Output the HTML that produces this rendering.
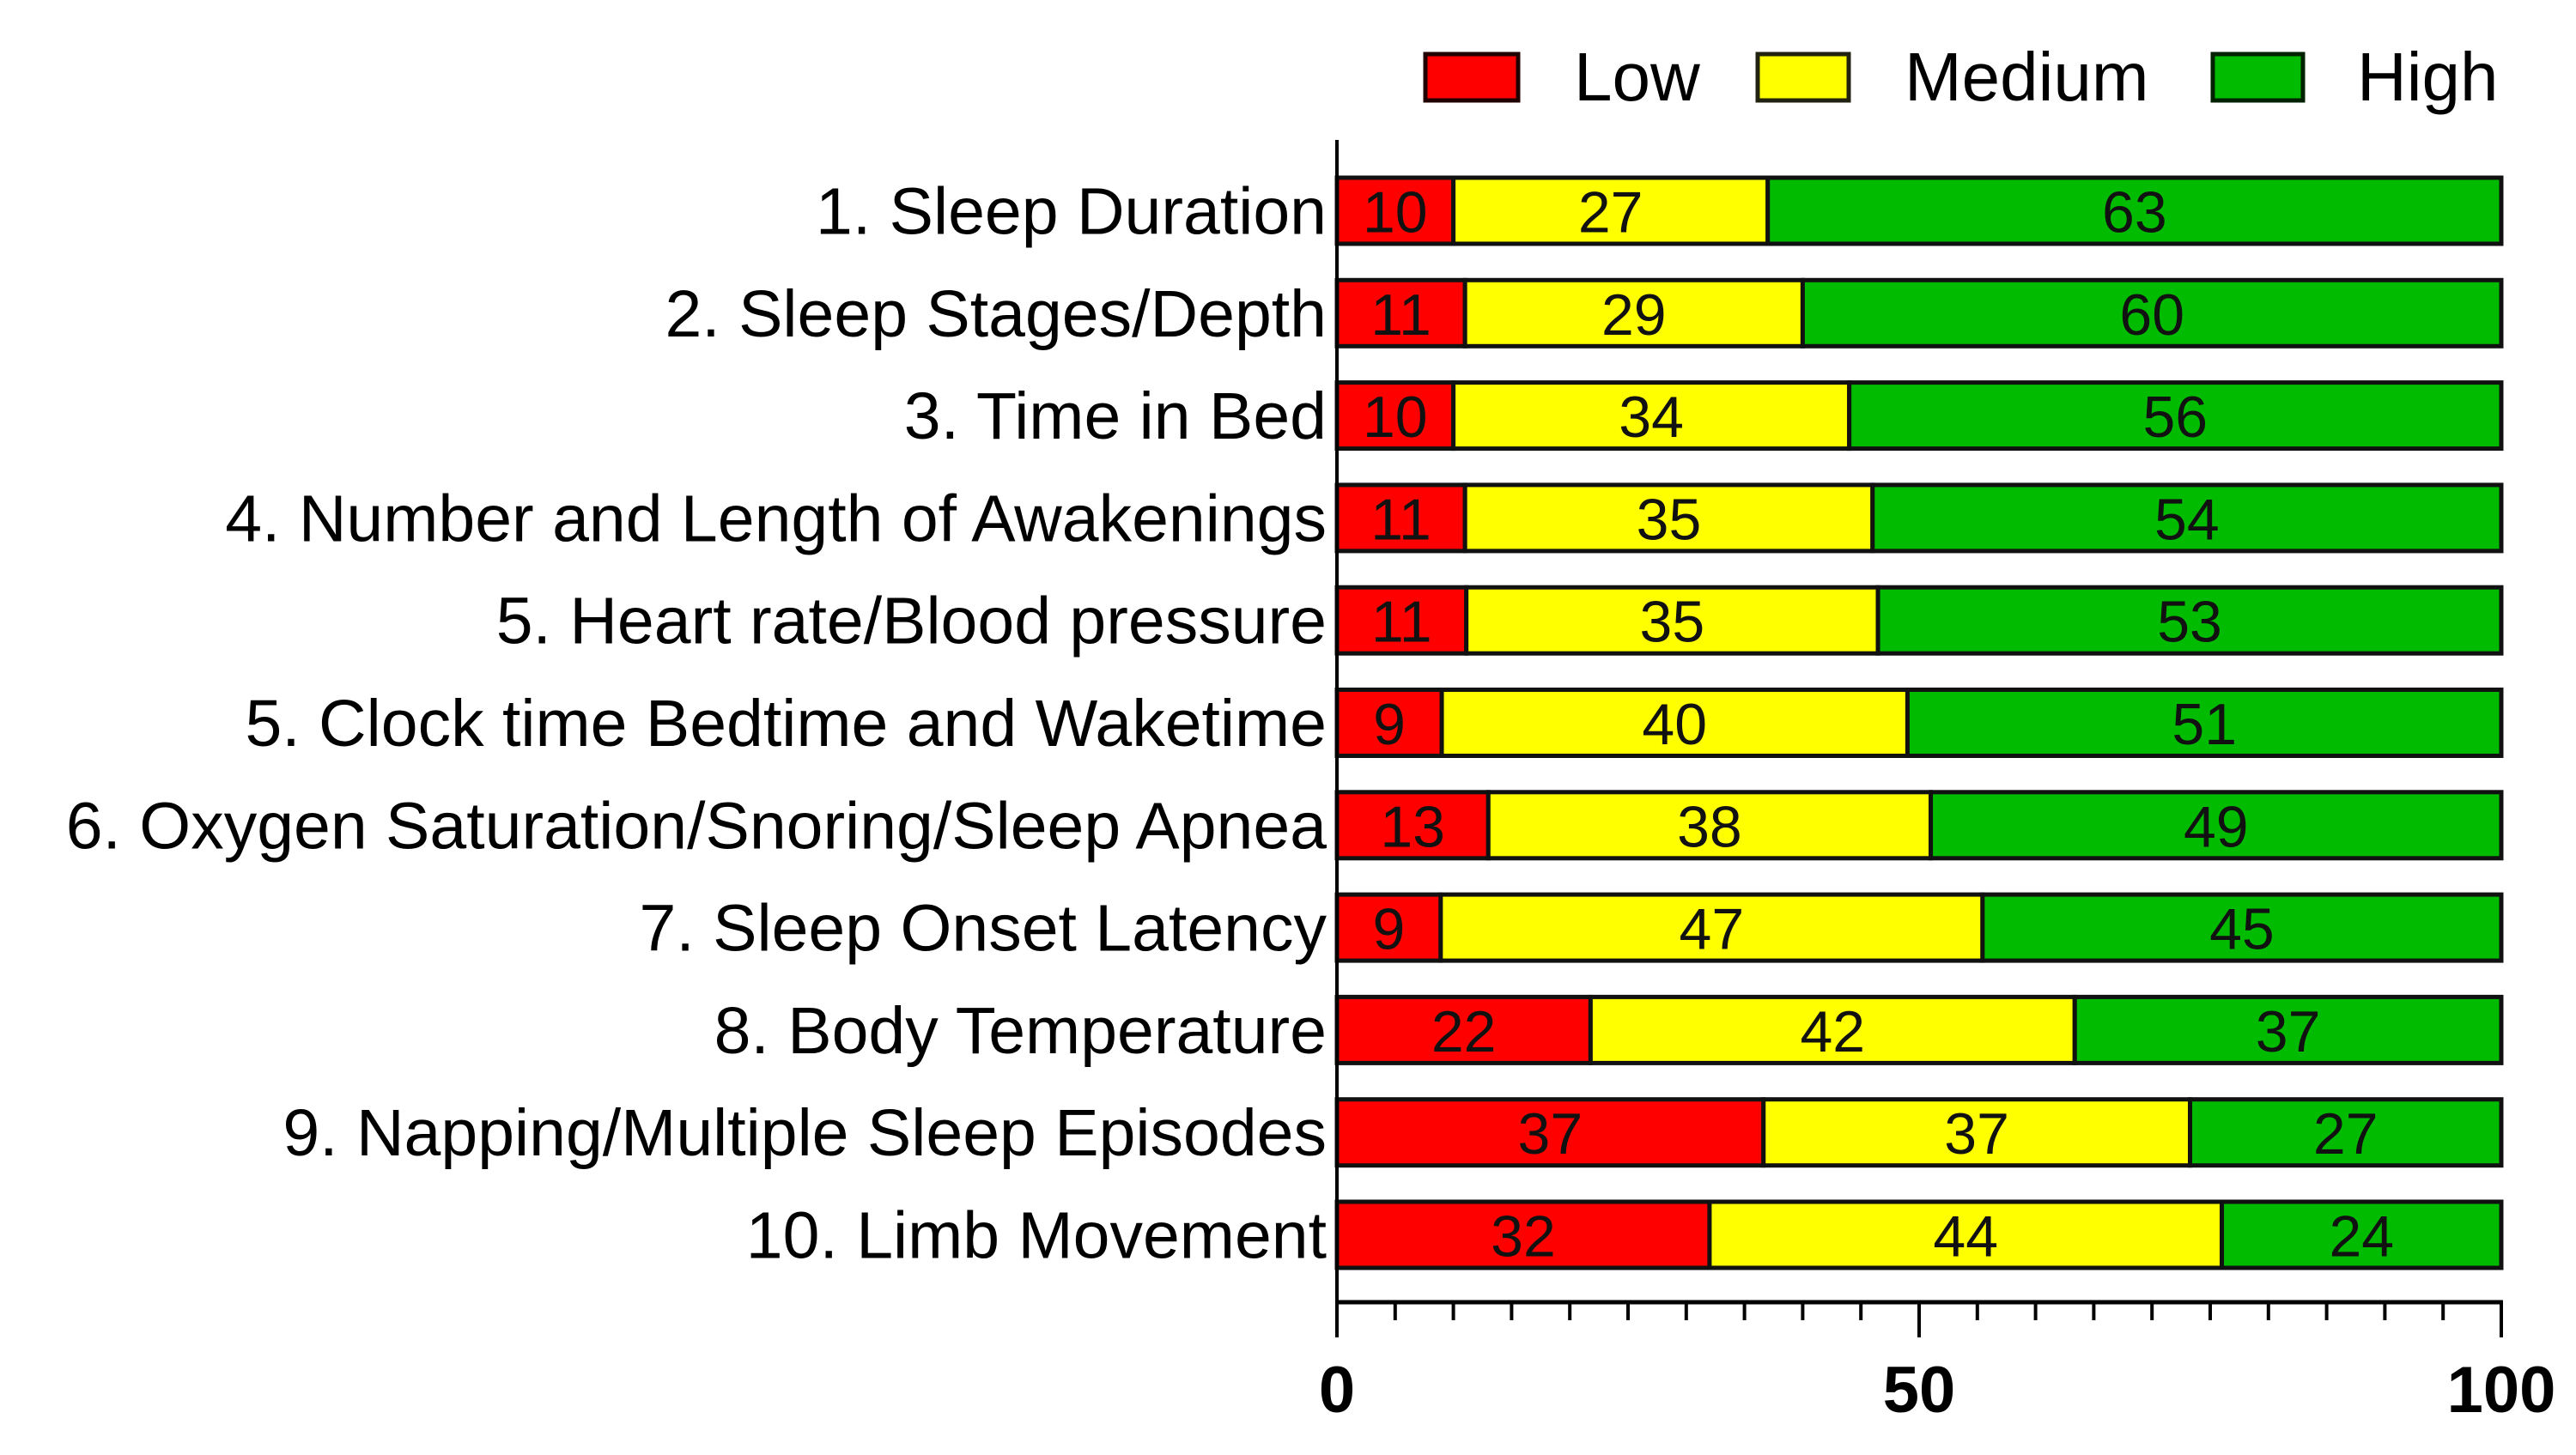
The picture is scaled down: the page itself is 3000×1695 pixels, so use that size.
<!DOCTYPE html>
<html><head><meta charset="utf-8"><style>
html,body{margin:0;padding:0;background:#fff;}
svg{display:block;font-family:"Liberation Sans",Arial,sans-serif;}
</style></head><body>
<svg id="chart" width="3000" height="1695" viewBox="0 0 3000 1695" xmlns="http://www.w3.org/2000/svg">
<g id="legend">
<g><rect x="1660" y="63" width="108" height="54" fill="#ff0000" stroke="#200" stroke-width="5"/><text x="1833" y="117" font-size="80">Low</text></g>
<g><rect x="2047" y="63" width="106" height="54" fill="#ffff00" stroke="#221" stroke-width="5"/><text x="2218" y="117" font-size="80">Medium</text></g>
<g><rect x="2577" y="63" width="105" height="54" fill="#00bb00" stroke="#020" stroke-width="5"/><text x="2745" y="117" font-size="80">High</text></g>
</g>
<g id="bars"></g>
<g id="axes"></g>
</svg>
<script>
const categories=["1. Sleep Duration","2. Sleep Stages/Depth","3. Time in Bed","4. Number and Length of Awakenings","5. Heart rate/Blood pressure","5. Clock time Bedtime and Waketime","6. Oxygen Saturation/Snoring/Sleep Apnea","7. Sleep Onset Latency","8. Body Temperature","9. Napping/Multiple Sleep Episodes","10. Limb Movement"];
const lowValues=[10,11,10,11,11,9,13,9,22,37,32];
const mediumValues=[27,29,34,35,35,40,38,47,42,37,44];
const highValues=[63,60,56,54,53,51,49,45,37,27,24];
const xTicks=[0,50,100];
const NS="http://www.w3.org/2000/svg";
const X0=1557,X1=2913,Y0=207,PITCH=119.3,BH=77;
function xs(v){return X0+(X1-X0)*v/100;}
function ys(i){return Y0+i*PITCH;}
function mk(t,a,p){const e=document.createElementNS(NS,t);for(const k in a)e.setAttribute(k,a[k]);p.appendChild(e);return e;}
const bars=document.getElementById('bars'),axes=document.getElementById('axes');
const series=[["low",lowValues,"#ff0000"],["medium",mediumValues,"#ffff00"],["high",highValues,"#00bb00"]];
categories.forEach((c,i)=>{
  const y=ys(i);
  const lab=mk('text',{x:1545,y:y+BH/2+27,'font-size':77,'text-anchor':'end',fill:'#000'},axes);
  lab.textContent=c;
  
  
  const total=lowValues[i]+mediumValues[i]+highValues[i];
  let acc=0;
  series.forEach(([n,vals,col])=>{
    const v=vals[i]*100/total;
    const r=mk('rect',{x:xs(acc),y:y,width:xs(acc+v)-xs(acc),height:BH,fill:col,stroke:'#111','stroke-width':5},bars);
    
    
    const t=mk('text',{x:(xs(acc)+xs(acc+v))/2,y:y+BH/2+25,'font-size':68,'text-anchor':'middle',fill:'#111'},bars);
    t.textContent=vals[i];
    
    
    acc+=v;
  });
});
const ya=mk('line',{x1:X0,y1:163,x2:X0,y2:1517,stroke:'#000','stroke-width':4},axes);


const xa=mk('line',{x1:X0-2,y1:1517,x2:X1+2,y2:1517,stroke:'#000','stroke-width':5},axes);


for(let v=0;v<=100;v+=5){
  const major=v%50===0;
  const tk=mk('line',{x1:xs(v),y1:1517,x2:xs(v),y2:major?1558:1538,stroke:'#000','stroke-width':4},axes);
  
  
}
xTicks.forEach(v=>{
  const t=mk('text',{x:xs(v),y:1645,'font-size':76,'font-weight':'bold','text-anchor':'middle'},axes);
  t.textContent=v;
  
  
});
</script>
</body></html>
